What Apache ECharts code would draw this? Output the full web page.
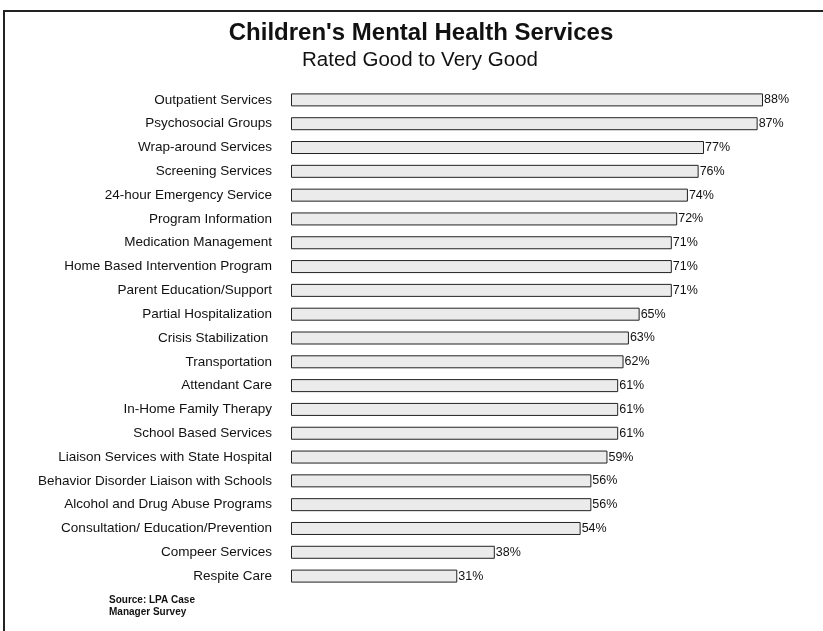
<!DOCTYPE html>
<html>
<head>
<meta charset="utf-8">
<script src="https://cdn.jsdelivr.net/npm/echarts@6/dist/echarts.min.js"></script>
<style>html,body{margin:0;padding:0;background:#fff;}#c{width:823px;height:631px;}</style>
</head>
<body>
<div id="c"></div>
<script>
var categories = ["Outpatient Services","Psychosocial Groups","Wrap-around Services","Screening Services","24-hour Emergency Service","Program Information","Medication Management","Home Based Intervention Program","Parent Education/Support","Partial Hospitalization","Crisis Stabilization ","Transportation","Attendant Care","In-Home Family Therapy","School Based Services","Liaison Services with State Hospital","Behavior Disorder Liaison with Schools","Alcohol and Drug Abuse Programs","Consultation/ Education/Prevention","Compeer Services","Respite Care"];
var values = [88,87,77,76,74,72,71,71,71,65,63,62,61,61,61,59,56,56,54,38,31];
var titleText = "Children's Mental Health Services";
var subtitleText = "Rated Good to Very Good";
var sourceLines = ["Source: LPA Case","Manager Survey"];

var chart = echarts.init(document.getElementById('c'), null, {renderer:'canvas'});
var font = 'Liberation Sans, Arial, sans-serif';
chart.setOption({
  backgroundColor:'#fff',
  animation:false,
  grid:{left:291, top:88, width:472, height:500, containLabel:false},
  xAxis:{type:'value', min:0, max:88, show:false},
  yAxis:{type:'category', data:categories, inverse:true,
    axisLine:{show:false}, axisTick:{show:false},
    axisLabel:{fontFamily:font, fontSize:13.5, color:'#111', margin:19}},
  series:[{type:'bar', data:values, barWidth:13,
    itemStyle:{color:'#ebebeb', borderColor:'#222', borderWidth:1},
    label:{show:true, position:'right', distance:1, formatter:'{c}%',
      fontFamily:font, fontSize:12.5, color:'#111'}}],
  graphic:[
    {type:'rect', shape:{x:4, y:11, width:830, height:640}, style:{fill:'none', stroke:'#222', lineWidth:2}},
    {type:'text', x:421, y:33, style:{text:titleText, font:'bold 24px '+font, fill:'#111', align:'center', verticalAlign:'middle'}},
    {type:'text', x:420, y:60, style:{text:subtitleText, font:'20.5px '+font, fill:'#111', align:'center', verticalAlign:'middle'}},
    {type:'text', left:109, top:594, style:{text:sourceLines.join('\n'), font:'bold 10px '+font, fill:'#111', lineHeight:12}}
  ]
});
</script>
</body>
</html>
